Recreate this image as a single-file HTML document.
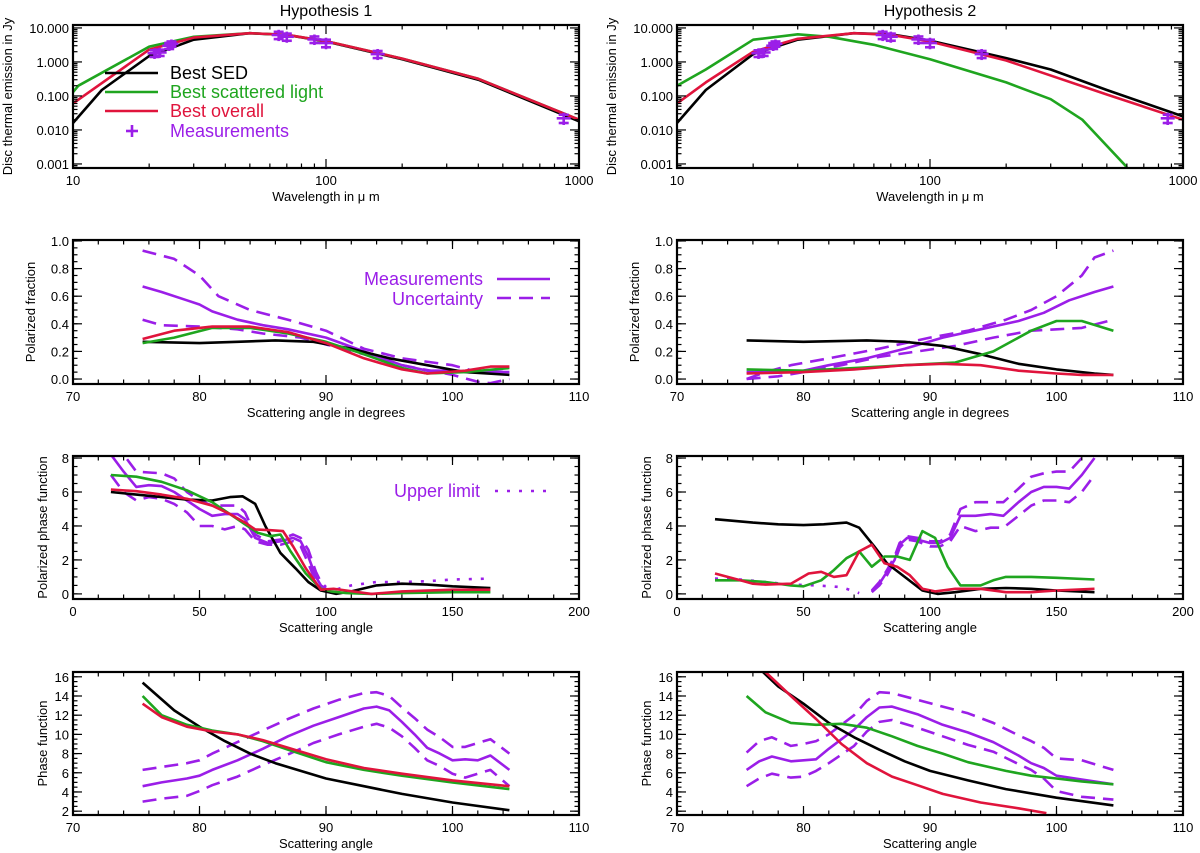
<!DOCTYPE html>
<html><head><meta charset="utf-8"><style>
html,body{margin:0;padding:0;background:#fff;}
svg{display:block;font-family:"Liberation Sans",sans-serif;}
</style></head><body>
<svg id="fig" width="1200" height="853" viewBox="0 0 1200 853" xmlns="http://www.w3.org/2000/svg">
<text x="326" y="16" font-size="16" text-anchor="middle">Hypothesis 1</text>
<text x="930" y="16" font-size="16" text-anchor="middle">Hypothesis 2</text>
</svg>
<script>
// ===== Panel data arrays =====
const sedL_black_x=[10,13,20,30,50,70,100,200,400,1000];
const sedL_black_y=[0.016,0.15,1.5,4.5,7,6.2,4,1.2,0.3,0.018];
const sedL_green_x=[10,10.5,20,30,50,70,100,200,400,1000];
const sedL_green_y=[0.13,0.2,2.8,5.5,7,6.3,4.1,1.25,0.32,0.02];
const sedL_red_x=[10,20,30,50,70,100,200,400,1000];
const sedL_red_y=[0.06,2.3,5.2,7,6.3,4.1,1.25,0.32,0.02];
const sedR_black_x=[10,13,20,30,50,70,100,200,300,500,1000];
const sedR_black_y=[0.016,0.15,1.7,4.5,7,6.5,4.2,1.3,0.6,0.15,0.025];
const sedR_green_x=[10,13,20,30,40,60,100,200,300,400,600];
const sedR_green_y=[0.2,0.6,4.5,6.5,5.5,3.2,1.2,0.25,0.08,0.02,0.0008];
const sedR_red_x=[10,13,20,30,50,70,100,200,500,1000];
const sedR_red_y=[0.06,0.25,2,4.8,7,6.3,4,1.1,0.11,0.02];
const meas_x=[21,22,24,24.5,65,70,90,100,160,870];
const meas_y=[1.8,1.9,3.0,3.4,6.2,5.5,4.6,3.6,1.7,0.022];
const meas_err=[0.4,0.4,0.6,0.6,1.5,1.3,1.0,0.9,0.4,0.006];
const pfL_meas_x=[75.5,77,79,80,81,83,85,87,90,93,96,98,100,102,104.5];
const pfL_meas_y=[0.67,0.63,0.57,0.54,0.49,0.43,0.39,0.36,0.3,0.2,0.1,0.06,0.06,0.05,0.05];
const pfL_up_x=[75.5,78,80,81.5,84,87,90,93,96,100,102,104.5];
const pfL_up_y=[0.93,0.87,0.75,0.6,0.5,0.43,0.35,0.22,0.15,0.1,0.05,0.08];
const pfL_lo_x=[75.5,77,80,83,85,88,90,93,96,100,102,103,104.5];
const pfL_lo_y=[0.43,0.39,0.38,0.36,0.33,0.3,0.25,0.18,0.1,0.03,-0.02,-0.03,0.0];
const pfL_black_x=[75.5,80,83,86,89,92,95,98,101,104.5];
const pfL_black_y=[0.27,0.26,0.27,0.28,0.27,0.22,0.15,0.1,0.05,0.03];
const pfL_green_x=[75.5,78,81,84,87,90,93,96,98,101,104.5];
const pfL_green_y=[0.26,0.3,0.37,0.37,0.33,0.27,0.18,0.08,0.04,0.05,0.08];
const pfL_red_x=[75.5,78,81,84,87,90,93,96,98,101,103,104.5];
const pfL_red_y=[0.29,0.35,0.38,0.38,0.34,0.26,0.15,0.07,0.04,0.06,0.09,0.09];
const pfR_meas_x=[75.5,78,80,82,85,88,91,94,97,99,101,103,104.5];
const pfR_meas_y=[0.05,0.05,0.06,0.1,0.15,0.22,0.3,0.36,0.42,0.48,0.57,0.63,0.67];
const pfR_up_x=[75.5,77,79,82,86,90,93,96,98,100,102,103,104.5];
const pfR_up_y=[0.0,0.05,0.1,0.15,0.22,0.3,0.35,0.43,0.5,0.6,0.75,0.88,0.93];
const pfR_lo_x=[75.5,78,80,83,86,89,92,95,98,100,102,104.5];
const pfR_lo_y=[0.0,0.02,0.05,0.1,0.16,0.2,0.24,0.3,0.35,0.36,0.37,0.43];
const pfR_black_x=[75.5,80,85,88,91,94,97,100,103,104.5];
const pfR_black_y=[0.28,0.27,0.28,0.27,0.24,0.18,0.11,0.07,0.04,0.03];
const pfR_green_x=[75.5,80,84,88,92,95,98,100,102,104.5];
const pfR_green_y=[0.07,0.06,0.08,0.1,0.12,0.2,0.35,0.42,0.42,0.35];
const pfR_red_x=[75.5,80,84,88,91,94,97,100,102,104.5];
const pfR_red_y=[0.04,0.05,0.07,0.1,0.11,0.1,0.06,0.04,0.03,0.03];
const ppL_black_x=[15,25,35,45,55,62,67,72,76,82,88,93,98,104,110,120,130,140,150,165];
const ppL_black_y=[6.0,5.85,5.7,5.55,5.5,5.7,5.75,5.3,4.0,2.4,1.5,0.7,0.2,0.0,0.15,0.5,0.6,0.55,0.45,0.35];
const ppL_green_x=[15,25,35,45,55,62,68,73,78,82,86,92,98,102,108,118,130,150,165];
const ppL_green_y=[7.0,6.9,6.6,6.1,5.4,4.7,4.1,3.6,3.4,3.5,2.5,1.2,0.3,0.15,0.05,0.0,0.05,0.1,0.1];
const ppL_red_x=[15,25,35,45,55,62,68,72,78,83,87,92,98,103,108,118,130,150,165];
const ppL_red_y=[6.15,6.05,5.85,5.6,5.2,4.7,4.2,3.8,3.75,3.7,2.8,1.5,0.25,0.3,0.2,0.0,0.15,0.25,0.25];
const ppL_meas_x=[15,20,25,30,35,40,45,50,55,60,65,68,72,77,82,87,90,93,96,98,100];
const ppL_meas_y=[8.2,7.2,6.3,6.4,6.35,6.0,5.5,5.0,4.6,4.7,4.7,4.4,3.3,3.0,3.1,3.3,3.1,2.2,1.0,0.5,0.3];
const ppL_up_y=[8.8,8.2,7.2,7.15,7.1,6.8,6.0,5.5,5.2,5.2,5.2,4.8,3.5,3.1,3.2,3.5,3.3,2.6,1.3,0.7,0.4];
const ppL_lo_y=[7.0,6.0,5.5,5.7,5.6,5.3,4.8,4.0,4.0,3.8,4.0,3.8,3.1,2.9,2.9,3.1,2.8,1.8,0.7,0.3,0.15];
const ppL_ul_x=[100,110,120,130,140,150,165];
const ppL_ul_y=[0.1,0.5,0.7,0.7,0.75,0.85,0.9];
const ppR_black_x=[15,30,40,50,58,67,72,78,83,90,97,103,110,120,130,140,150,165];
const ppR_black_y=[4.4,4.2,4.1,4.05,4.1,4.2,3.9,2.8,1.8,1.0,0.2,0.0,0.1,0.3,0.35,0.3,0.2,0.1];
const ppR_green_x=[15,25,35,45,50,57,62,67,72,77,82,87,92,97,102,107,112,120,125,130,140,150,165];
const ppR_green_y=[0.8,0.8,0.7,0.5,0.45,0.8,1.4,2.1,2.5,1.6,2.2,2.2,2.0,3.7,3.3,1.6,0.5,0.5,0.8,1.0,1.0,0.95,0.85];
const ppR_red_x=[15,25,30,35,45,52,57,62,67,72,77,82,87,92,97,102,110,120,130,140,150,165];
const ppR_red_y=[1.2,0.8,0.6,0.55,0.6,1.2,1.3,1.0,1.1,2.5,2.9,1.8,1.6,1.1,0.3,0.15,0.3,0.3,0.1,0.1,0.2,0.3];
const ppR_meas_x=[77,80,83,86,88,91,95,100,104,108,112,118,124,129,135,140,145,150,155,160,165];
const ppR_meas_y=[0.15,0.6,1.3,2.0,2.9,3.3,3.2,3.0,3.0,3.3,4.6,4.6,4.7,4.6,5.4,6.0,6.3,6.3,6.2,7.0,8.0];
const ppR_up_y=[0.2,0.7,1.4,2.2,3.0,3.4,3.3,3.1,3.1,3.5,5.0,5.4,5.4,5.4,6.2,6.9,7.1,7.2,7.2,8.0,8.5];
const ppR_lo_y=[0.1,0.5,1.1,1.9,2.7,3.2,3.1,2.8,2.8,3.1,4.0,3.7,3.9,3.9,4.6,5.2,5.5,5.5,5.4,6.0,7.0];
const ppR_ul_x=[15,25,35,45,55,65,72];
const ppR_ul_y=[0.9,0.85,0.7,0.55,0.5,0.4,0.05];
const phL_black_x=[75.5,78,80,82,84,86,88,90,93,96,100,104.5];
const phL_black_y=[15.4,12.5,10.8,9.3,8.0,7.0,6.2,5.4,4.6,3.8,2.9,2.1];
const phL_green_x=[75.5,77,79,81,83,85,87,90,93,96,100,104.5];
const phL_green_y=[14.0,12.0,11.0,10.4,10.0,9.3,8.4,7.1,6.3,5.7,5.0,4.3];
const phL_red_y=[13.2,11.8,10.8,10.3,10.0,9.4,8.6,7.4,6.5,5.9,5.2,4.6];
const phL_meas_x=[75.5,77,79,80,81,83,85,87,89,91,93,94,95,96,97,98,99,100,101,102,103,104.5];
const phL_meas_y=[4.6,5.0,5.4,5.7,6.3,7.3,8.5,9.8,10.9,11.8,12.7,12.9,12.5,11.3,10.0,8.6,8.0,7.3,7.4,7.3,7.8,6.3];
const phL_up_y=[6.3,6.6,7.0,7.3,8.0,9.2,10.4,11.6,12.7,13.6,14.3,14.4,14.0,12.8,11.7,10.5,9.7,8.7,8.7,9.1,9.5,8.0];
const phL_lo_y=[3.0,3.3,3.6,4.1,4.7,5.6,6.8,7.9,9.1,10.0,10.8,11.1,10.7,9.8,8.6,7.3,6.7,5.9,5.5,5.9,6.3,4.6];
const phR_black_x=[76.8,78,80,82,84,86,88,90,93,96,100,104.5];
const phR_black_y=[16.5,15.0,13.2,11.2,9.7,8.4,7.2,6.2,5.2,4.3,3.4,2.6];
const phR_green_x=[75.5,77,79,81,83,85,87,89,91,93,96,98,100,102,104.5];
const phR_green_y=[14.0,12.3,11.2,11.0,11.1,10.7,9.8,8.8,8.0,7.1,6.2,5.7,5.4,5.1,4.8];
const phR_red_x=[77,79,81,83,85,87,89,91,94,97,99.2];
const phR_red_y=[16.5,14.0,11.6,9.0,7.0,5.6,4.7,3.8,2.9,2.3,1.8];
const phR_meas_x=[75.5,76.5,77.5,79,80,81,82,84,85,86,87,89,91,93,95,97,98,99,100,102,104.5];
const phR_meas_y=[6.3,7.2,7.7,7.2,7.3,7.4,8.5,10.5,11.8,12.8,12.9,12.1,11.0,10.2,9.2,7.8,7.0,6.5,5.7,5.3,4.8];
const phR_up_y=[8.1,9.3,9.7,8.8,9.0,9.3,10.0,12.0,13.5,14.4,14.3,13.6,12.9,12.2,11.2,9.9,9.3,8.6,7.5,7.3,6.3];
const phR_lo_y=[4.6,5.4,5.9,5.5,5.6,6.2,7.0,8.8,10.3,11.3,11.5,10.7,9.8,8.9,8.2,6.9,6.3,5.4,4.1,3.5,3.2];

const xTickSED=["10","100","1000"];
const yTickSED=["0.001","0.010","0.100","1.000","10.000"];

const NS="http://www.w3.org/2000/svg";
const svg=document.getElementById('fig');
const K='#000', G='#1fa51f', R='#e0143c', P='#9b1ee8';
let clipN=0;
function mk(tag,attrs,parent){const e=document.createElementNS(NS,tag);for(const k in attrs)e.setAttribute(k,attrs[k]);(parent||svg).appendChild(e);return e;}

function panel(o){
  const lg=v=>Math.log10(v);
  o.sx=v=>{const t=o.xlog?(lg(v)-lg(o.xr[0]))/(lg(o.xr[1])-lg(o.xr[0])):(v-o.xr[0])/(o.xr[1]-o.xr[0]);return o.x0+t*o.w;};
  o.sy=v=>{const t=o.ylog?(lg(v)-lg(o.yr[0]))/(lg(o.yr[1])-lg(o.yr[0])):(v-o.yr[0])/(o.yr[1]-o.yr[0]);return o.y0+o.h-t*o.h;};
  const id='clip'+(clipN++);
  const cp=mk('clipPath',{id:id});
  mk('rect',{x:o.x0,y:o.y0,width:o.w,height:o.h},cp);
  o.g=mk('g',{'clip-path':'url(#'+id+')'});
  
  
  return o;
}
function line(p,xs,ys,color,name,dash){
  const pts=xs.map((x,i)=>p.sx(x).toFixed(1)+','+p.sy(ys[i]).toFixed(1)).join(' ');
  const e=mk('polyline',{points:pts,fill:'none',stroke:color,'stroke-width':2.6,'stroke-linejoin':'round'},p.g);
  if(dash)e.setAttribute('stroke-dasharray',dash);
  
  
}
function frame(p){
  const a=mk('g',{stroke:'#000','stroke-width':1.2,fill:'none'});
  
  
  const x0=p.x0,y0=p.y0,x1=p.x0+p.w,y1=p.y0+p.h;
  const tk=(xs,len,isX)=>{xs.forEach(v=>{
    if(isX){const X=p.sx(v);if(X<x0-0.5||X>x1+0.5)return;mk('line',{x1:X,y1:y1,x2:X,y2:y1-len},a);mk('line',{x1:X,y1:y0,x2:X,y2:y0+len},a);}
    else{const Y=p.sy(v);if(Y<y0-0.5||Y>y1+0.5)return;mk('line',{x1:x0,y1:Y,x2:x0+len,y2:Y},a);mk('line',{x1:x1,y1:Y,x2:x1-len,y2:Y},a);}
  });};
  tk(p.xmaj,9,true);tk(p.xmin,4.5,true);tk(p.ymaj,9,false);tk(p.ymin,4.5,false);
  mk('rect',{x:x0,y:y0,width:p.w,height:p.h,'stroke-width':2.2},a);
  p.xmaj.forEach((v,i)=>{const t=mk('text',{x:p.sx(v),y:y1+17,'font-size':13,'text-anchor':'middle'});t.textContent=p.xlab[i];
    });
  p.ymaj.forEach((v,i)=>{const t=mk('text',{x:x0-4,y:p.sy(v)+5,'font-size':13,'text-anchor':'end'});t.textContent=p.ylab[i];
    });
  const xt=mk('text',{x:x0+p.w/2,y:y1+33,'font-size':13,'text-anchor':'middle'});xt.textContent=p.xtitle;
  
  const yt=mk('text',{x:0,y:0,'font-size':13,'text-anchor':'middle',transform:'translate('+p.ytx+','+(y0+p.h/2)+') rotate(-90)'});yt.textContent=p.ytitle;
  
}
function range(a,b,s){const r=[];for(let v=a;v<=b+1e-9;v+=s)r.push(+v.toFixed(6));return r;}
function logMinor(a,b){const r=[];for(let d=a;d<b;d++)for(let m=2;m<10;m++)r.push(m*Math.pow(10,d));return r;}

const LX=[73,677], W=506, H=143, ROWY=[25,240,456,672];
const ytitleX=[[12,35,47,47],[616,639,651,651]];

[0,1].forEach(c=>{
  const p=panel({name:c?'sed-h2':'sed-h1',x0:LX[c],y0:ROWY[0],w:W,h:H,xr:[10,1000],yr:[0.00076,12.2],xlog:true,ylog:true});
  p.xmaj=[10,100,1000];p.xlab=xTickSED;p.xmin=logMinor(1,3);
  p.ymaj=[0.001,0.01,0.1,1,10];p.ylab=yTickSED;p.ymin=logMinor(-4,2);
  p.xtitle='Wavelength in \u03bc m';p.ytitle='Disc thermal emission in Jy';p.ytx=ytitleX[c][0];
  if(c===0){line(p,sedL_black_x,sedL_black_y,K,'best-sed-line');line(p,sedL_green_x,sedL_green_y,G,'best-scattered-line');line(p,sedL_red_x,sedL_red_y,R,'best-overall-line');}
  else{line(p,sedR_black_x,sedR_black_y,K,'best-sed-line');line(p,sedR_green_x,sedR_green_y,G,'best-scattered-line');line(p,sedR_red_x,sedR_red_y,R,'best-overall-line');}
  meas_x.forEach((x,i)=>{
    const X=p.sx(x),Y=p.sy(meas_y[i]),Yt=p.sy(meas_y[i]+meas_err[i]),Yb=p.sy(meas_y[i]-meas_err[i]);
    const g=mk('g',{stroke:P,'stroke-width':2.6},p.g);
    
    
    mk('line',{x1:X-7,y1:Y,x2:X+7,y2:Y},g);mk('line',{x1:X,y1:Yt-2,x2:X,y2:Yb+2},g);
    mk('line',{x1:X-5,y1:Yt,x2:X+5,y2:Yt},g);mk('line',{x1:X-5,y1:Yb,x2:X+5,y2:Yb},g);
  });
  frame(p);
});
(function(){
  const lg=mk('g',{});
  
  
  const items=[['Best SED',K],['Best scattered light',G],['Best overall',R],['Measurements',P]];
  const ly=[73,92,111,131];
  items.forEach((it,i)=>{
    const y=ly[i];
    const e=mk('g',{},lg);
    
    
    if(i<3)mk('line',{x1:105,y1:y,x2:158,y2:y,stroke:it[1],'stroke-width':2.6},e);
    else{mk('line',{x1:126,y1:y,x2:138,y2:y,stroke:P,'stroke-width':2.6},e);mk('line',{x1:132,y1:y-6,x2:132,y2:y+6,stroke:P,'stroke-width':2.6},e);}
    const t=mk('text',{x:170,y:y+6,'font-size':18,fill:it[1]},e);t.textContent=it[0];
  });
})();

[0,1].forEach(c=>{
  const p=panel({name:c?'polfrac-h2':'polfrac-h1',x0:LX[c],y0:ROWY[1],w:W,h:144,xr:[70,110],yr:[-0.036,1.007]});
  p.xmaj=range(70,110,10);p.xlab=p.xmaj.map(String);p.xmin=range(70,110,2);
  p.ymaj=range(0,1,0.2);p.ylab=p.ymaj.map(v=>v.toFixed(1));p.ymin=range(0,1,0.05);
  p.xtitle='Scattering angle in degrees';p.ytitle='Polarized fraction';p.ytx=ytitleX[c][1];
  const D='14,8';
  if(c===0){line(p,pfL_meas_x,pfL_meas_y,P,'measurement-line');line(p,pfL_up_x,pfL_up_y,P,'uncertainty-upper',D);line(p,pfL_lo_x,pfL_lo_y,P,'uncertainty-lower',D);
    line(p,pfL_black_x,pfL_black_y,K,'best-sed-line');line(p,pfL_green_x,pfL_green_y,G,'best-scattered-line');line(p,pfL_red_x,pfL_red_y,R,'best-overall-line');}
  else{line(p,pfR_meas_x,pfR_meas_y,P,'measurement-line');line(p,pfR_up_x,pfR_up_y,P,'uncertainty-upper',D);line(p,pfR_lo_x,pfR_lo_y,P,'uncertainty-lower',D);
    line(p,pfR_black_x,pfR_black_y,K,'best-sed-line');line(p,pfR_green_x,pfR_green_y,G,'best-scattered-line');line(p,pfR_red_x,pfR_red_y,R,'best-overall-line');}
  frame(p);
});
(function(){
  const lg=mk('g',{});
  
  
  let t=mk('text',{x:483,y:285,'font-size':18,fill:P,'text-anchor':'end'},lg);t.textContent='Measurements';
  mk('line',{x1:497,y1:279,x2:550,y2:279,stroke:P,'stroke-width':2.6},lg);
  t=mk('text',{x:483,y:305,'font-size':18,fill:P,'text-anchor':'end'},lg);t.textContent='Uncertainty';
  mk('line',{x1:497,y1:298,x2:550,y2:298,stroke:P,'stroke-width':2.6,'stroke-dasharray':'14,8'},lg);
})();

[0,1].forEach(c=>{
  const p=panel({name:c?'polphase-h2':'polphase-h1',x0:LX[c],y0:ROWY[2],w:W,h:H,xr:[0,200],yr:[-0.3,8.12]});
  p.xmaj=range(0,200,50);p.xlab=p.xmaj.map(String);p.xmin=range(0,200,10);
  p.ymaj=range(0,8,2);p.ylab=p.ymaj.map(String);p.ymin=range(0,8,0.5);
  p.xtitle='Scattering angle';p.ytitle='Polarized phase function';p.ytx=ytitleX[c][2];
  const D='14,8';
  if(c===0){
    line(p,ppL_ul_x,ppL_ul_y,P,'upper-limit-line','3,9');
    line(p,ppL_meas_x,ppL_meas_y,P,'measurement-line');line(p,ppL_meas_x,ppL_up_y,P,'uncertainty-upper',D);line(p,ppL_meas_x,ppL_lo_y,P,'uncertainty-lower',D);
    line(p,ppL_black_x,ppL_black_y,K,'best-sed-line');line(p,ppL_green_x,ppL_green_y,G,'best-scattered-line');line(p,ppL_red_x,ppL_red_y,R,'best-overall-line');}
  else{
    line(p,ppR_ul_x,ppR_ul_y,P,'upper-limit-line','3,9');
    line(p,ppR_meas_x,ppR_meas_y,P,'measurement-line');line(p,ppR_meas_x,ppR_up_y,P,'uncertainty-upper',D);line(p,ppR_meas_x,ppR_lo_y,P,'uncertainty-lower',D);
    line(p,ppR_black_x,ppR_black_y,K,'best-sed-line');line(p,ppR_green_x,ppR_green_y,G,'best-scattered-line');line(p,ppR_red_x,ppR_red_y,R,'best-overall-line');}
  frame(p);
});
(function(){
  const lg=mk('g',{});
  
  
  const t=mk('text',{x:480,y:497,'font-size':18,fill:P,'text-anchor':'end'},lg);t.textContent='Upper limit';
  mk('line',{x1:495,y1:491,x2:546,y2:491,stroke:P,'stroke-width':2.6,'stroke-dasharray':'3,9'},lg);
})();

[0,1].forEach(c=>{
  const p=panel({name:c?'phase-h2':'phase-h1',x0:LX[c],y0:ROWY[3],w:W,h:H,xr:[70,110],yr:[1.6,16.5]});
  p.xmaj=range(70,110,10);p.xlab=p.xmaj.map(String);p.xmin=range(70,110,2);
  p.ymaj=range(2,16,2);p.ylab=p.ymaj.map(String);p.ymin=range(2,16,0.5);
  p.xtitle='Scattering angle';p.ytitle='Phase function';p.ytx=ytitleX[c][3];
  const D='14,8';
  if(c===0){
    line(p,phL_meas_x,phL_meas_y,P,'measurement-line');line(p,phL_meas_x,phL_up_y,P,'uncertainty-upper',D);line(p,phL_meas_x,phL_lo_y,P,'uncertainty-lower',D);
    line(p,phL_black_x,phL_black_y,K,'best-sed-line');line(p,phL_green_x,phL_green_y,G,'best-scattered-line');line(p,phL_green_x,phL_red_y,R,'best-overall-line');}
  else{
    line(p,phR_meas_x,phR_meas_y,P,'measurement-line');line(p,phR_meas_x,phR_up_y,P,'uncertainty-upper',D);line(p,phR_meas_x,phR_lo_y,P,'uncertainty-lower',D);
    line(p,phR_black_x,phR_black_y,K,'best-sed-line');line(p,phR_green_x,phR_green_y,G,'best-scattered-line');line(p,phR_red_x,phR_red_y,R,'best-overall-line');}
  frame(p);
});
</script>
</body></html>
